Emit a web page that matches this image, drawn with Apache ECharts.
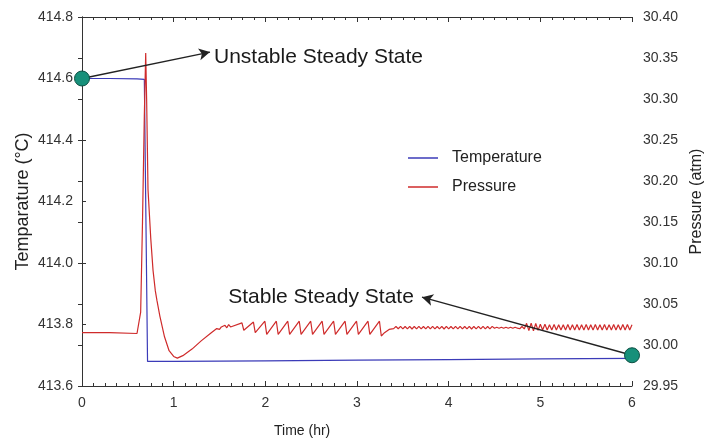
<!DOCTYPE html>
<html>
<head>
<meta charset="utf-8">
<script src="https://cdn.jsdelivr.net/npm/echarts@6/dist/echarts.min.js"></script>
<style>
html,body{margin:0;padding:0;background:#fff;}
#chart{width:710px;height:444px;}
</style>
</head>
<body>
<div id="chart"></div>
<script>
// ---- data ----
var xTicks = [0, 1, 2, 3, 4, 5, 6];
var tempTicks = [413.6, 413.8, 414.0, 414.2, 414.4, 414.6, 414.8];
var pressTicks = [29.95, 30.00, 30.05, 30.10, 30.15, 30.20, 30.25, 30.30, 30.35, 30.40];

var tempTime  = [0, 0.30, 0.60, 0.68, 0.700, 0.715, 1.0, 2.0, 3.0, 4.0, 5.0, 6.0];
var tempValue = [414.600, 414.600, 414.599, 414.597, 414.594, 413.680, 413.680, 413.682, 413.684, 413.686, 413.688, 413.690];

// pressure: start-up, spike and recovery
var pressSpike = [
  [0, 30.015], [0.30, 30.015], [0.60, 30.014], [0.62, 30.016], [0.64, 30.040],
  [0.66, 30.150], [0.68, 30.280], [0.695, 30.356], [0.705, 30.300], [0.72, 30.190],
  [0.75, 30.130], [0.775, 30.091], [0.80, 30.066], [0.818, 30.054], [0.85, 30.035],
  [0.90, 30.010], [0.95, 29.993], [1.00, 29.986], [1.04, 29.984], [1.10, 29.987],
  [1.20, 29.995], [1.30, 30.005], [1.40, 30.014], [1.47, 30.020]
];
// pressure: noisy rise and sawtooth section
var pressSaw = [
  [1.50, 30.019], [1.52, 30.022], [1.54, 30.020], [1.56, 30.024], [1.58, 30.021],
  [1.60, 30.025], [1.62, 30.022], [1.64, 30.021],
  [1.745, 30.027], [1.765, 30.018],
  [1.870, 30.028], [1.890, 30.015],
  [1.995, 30.029], [2.015, 30.013],
  [2.120, 30.029], [2.140, 30.013],
  [2.245, 30.029], [2.265, 30.013],
  [2.370, 30.029], [2.390, 30.013],
  [2.495, 30.029], [2.515, 30.013],
  [2.620, 30.029], [2.640, 30.013],
  [2.745, 30.029], [2.765, 30.013],
  [2.870, 30.029], [2.890, 30.013],
  [2.995, 30.029], [3.015, 30.013],
  [3.120, 30.029], [3.140, 30.013],
  [3.245, 30.029], [3.265, 30.011],
  [3.30, 30.015], [3.35, 30.019]
];
// pressure: small oscillation tail, sampled every tailStep hours from tailStart
var tailStart = 3.40;
var tailStep = 0.025;
var pressTail = [
  30.0200, 30.0225, 30.0198, 30.0227, 30.0196, 30.0226, 30.0197, 30.0228, 30.0195, 30.0226,
  30.0197, 30.0227, 30.0196, 30.0226, 30.0197, 30.0228, 30.0196, 30.0227, 30.0197, 30.0226,
  30.0196, 30.0228, 30.0195, 30.0227, 30.0197, 30.0226, 30.0196, 30.0227, 30.0197, 30.0228,
  30.0196, 30.0226, 30.0197, 30.0227, 30.0195, 30.0226, 30.0197, 30.0228, 30.0196, 30.0227,
  30.0197, 30.0226, 30.0196, 30.0227,
  30.0204, 30.0216, 30.0205, 30.0217, 30.0204, 30.0216, 30.0205, 30.0217, 30.0204, 30.0216, 30.0205,
  30.0198, 30.0226, 30.0196,
  30.0264, 30.0176, 30.0267, 30.0173, 30.0262, 30.0178, 30.0252, 30.0183, 30.0252,
  30.0183, 30.0248, 30.0183, 30.0249, 30.0182, 30.0248, 30.0184, 30.0248, 30.0183, 30.0249,
  30.0182, 30.0248, 30.0183, 30.0250, 30.0183, 30.0248, 30.0184, 30.0249, 30.0182, 30.0248,
  30.0183, 30.0249, 30.0183, 30.0248, 30.0182, 30.0250, 30.0183, 30.0248, 30.0184, 30.0249,
  30.0183, 30.0248, 30.0182, 30.0249, 30.0183, 30.0249, 30.0184, 30.0248
];

var stateTime = [0, 6];
var stateTemp = [414.600, 413.700];
var unstableArrow = [[0, 414.600], [1.396, 414.686]];
var stableArrow = [[6, 413.700], [3.709, 413.889]];
var unstableLabelAt = [1.44, 414.668];
var stableLabelAt = [3.62, 413.888];

// ---- build ----
var tempData = tempTime.map(function (t, i) { return [t, tempValue[i]]; });
var pressData = pressSpike.concat(pressSaw).concat(
  pressTail.map(function (v, i) { return [tailStart + i * tailStep, v]; })
);

var FONT = '"Liberation Sans", Arial, sans-serif';
var AX = '#333';

function xAx(pos, showLabel) {
  return {
    type: 'value', position: pos, min: 0, max: 6, interval: 1,
    axisLine: { show: true, onZero: false, lineStyle: { color: AX, width: 1 } },
    axisTick: { show: true, inside: true, length: 5, lineStyle: { color: AX } },
    minorTick: { show: true, splitNumber: 8, length: 3, lineStyle: { color: AX } },
    splitLine: { show: false },
    axisLabel: { show: showLabel, color: '#333', fontSize: 14, fontFamily: FONT, margin: 10 }
  };
}

var chart = echarts.init(document.getElementById('chart'), null, { renderer: 'canvas' });
chart.setOption({
  animation: false,
  backgroundColor: '#fff',
  grid: { left: 82, right: 78, top: 17, bottom: 58, containLabel: false, outerBoundsMode: 'none' },
  legend: {
    data: ['Temperature', 'Pressure'],
    orient: 'vertical', left: 403, top: 145,
    icon: 'rect', itemWidth: 30, itemHeight: 1.5, itemGap: 13,
    textStyle: { fontSize: 16, fontFamily: FONT, color: '#222', padding: [0, 0, 0, 9] }
  },
  xAxis: [xAx('bottom', true), xAx('top', false)],
  yAxis: [
    {
      type: 'value', position: 'left', min: 413.6, max: 414.8, interval: 0.2,
      name: 'Temparature (°C)', nameLocation: 'middle', nameGap: 50, nameRotate: 90,
      nameMoveOverlap: false,
      nameTextStyle: { fontSize: 18, fontFamily: FONT, color: '#222' },
      axisLine: { show: true, lineStyle: { color: AX } },
      axisTick: { show: true, inside: true, length: 4, lineStyle: { color: AX } },
      splitLine: { show: false },
      axisLabel: { color: '#333', fontSize: 14, fontFamily: FONT, margin: 9,
        formatter: function (v) { return v.toFixed(1); } }
    },
    {
      type: 'value', position: 'right', min: 29.95, max: 30.40, interval: 0.05,
      name: 'Pressure (atm)', nameLocation: 'middle', nameGap: 54, nameRotate: 90,
      nameTextStyle: { fontSize: 16, fontFamily: FONT, color: '#222' },
      axisLine: { show: true, lineStyle: { color: AX } },
      axisTick: { show: true, inside: true, length: 4, lineStyle: { color: AX } },
      splitLine: { show: false },
      axisLabel: { color: '#333', fontSize: 14, fontFamily: FONT, margin: 11,
        formatter: function (v) { return v.toFixed(2); } }
    }
  ],
  graphic: [{
    type: 'text', left: 274, top: 424,
    style: { text: 'Time (hr)', fontSize: 14, fontFamily: FONT, fill: '#222' }
  }],
  series: [
    {
      name: 'Temperature', type: 'line', xAxisIndex: 0, yAxisIndex: 0,
      data: tempData, symbol: 'none', showSymbol: false,
      lineStyle: { color: '#3b3bb8', width: 1.2 }, itemStyle: { color: '#3b3bb8' }, z: 2
    },
    {
      name: 'Pressure', type: 'line', xAxisIndex: 0, yAxisIndex: 1,
      data: pressData, symbol: 'none', showSymbol: false,
      lineStyle: { color: '#cf2b2b', width: 1.2 }, itemStyle: { color: '#cf2b2b' }, z: 3
    },
    {
      name: 'annotations', type: 'scatter', xAxisIndex: 0, yAxisIndex: 0,
      symbolSize: 0, silent: true, z: 5,
      itemStyle: { opacity: 1 },
      data: [
        { value: unstableLabelAt, label: { show: true, position: 'right', distance: 0, formatter: 'Unstable Steady State' } },
        { value: stableLabelAt, label: { show: true, position: 'left', distance: 0, formatter: 'Stable Steady State' } }
      ],
      label: { fontSize: 21, fontFamily: FONT, color: '#1a1a1a' },
      markLine: {
        silent: true, symbol: ['none', 'arrow'], symbolSize: [9, 11],
        lineStyle: { color: '#222', width: 1.3, type: 'solid', opacity: 1 },
        label: { show: false },
        data: [
          [{ coord: unstableArrow[0] }, { coord: unstableArrow[1] }],
          [{ coord: stableArrow[0] }, { coord: stableArrow[1] }]
        ]
      }
    },
    {
      name: 'states', type: 'scatter', xAxisIndex: 0, yAxisIndex: 0,
      clip: false, z: 10, symbolSize: 15,
      itemStyle: { color: '#17907a', borderColor: '#0b4f42', borderWidth: 1, opacity: 1 },
      data: stateTime.map(function (t, i) { return [t, stateTemp[i]]; })
    }
  ]
});
</script>
</body>
</html>
